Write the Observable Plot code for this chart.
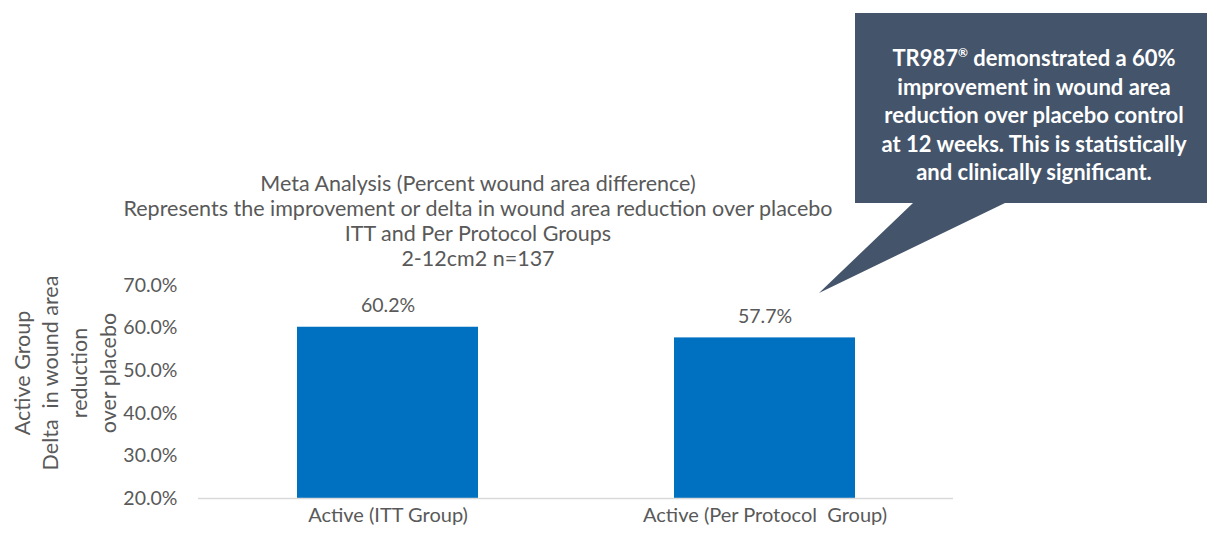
<!DOCTYPE html>
<html>
<head>
<meta charset="utf-8">
<script src="https://cdn.jsdelivr.net/npm/d3@7"></script>
<script src="https://cdn.jsdelivr.net/npm/@observablehq/plot@0.6"></script>
<style>
  html, body { margin: 0; padding: 0; background: #fff; }
  #chart { width: 1207px; height: 534px; }
  svg { font-family: Lato, "Open Sans", sans-serif; }
</style>
</head>
<body>
<div id="chart"></div>
<script>
// ---- data ----
const categories = ["Active (ITT Group)", "Active (Per Protocol  Group)"];
const values = [60.2, 57.7];
const yTicks = [20, 30, 40, 50, 60, 70];
const titleLines = [
  "Meta Analysis (Percent wound area difference)",
  "Represents the improvement or delta in wound area reduction over placebo",
  "ITT and Per Protocol Groups",
  "2-12cm2 n=137"
];
const yTitleLines = ["Active Group", "Delta  in wound area", "reduction", "over placebo"];
const calloutLines = [
  "TR987\u00AE demonstrated a 60%",
  "improvement in wound area",
  "reduction over placebo control",
  "at 12 weeks. This is statistically",
  "and clinically significant."
];

const data = categories.map((c, i) => ({category: c, value: values[i]}));
const pct = d => d.toFixed(1) + "%";
const grey = "#595959";

function annotations(index, scales, values, dims) {
  const g = d3.create("svg:g");
  // Title block
  const t = g.append("text")
    .attr("text-anchor", "middle")
    .attr("fill", grey)
    .attr("font-size", 21.5);
  titleLines.forEach((line, i) => {
    t.append("tspan").attr("x", 478).attr("y", 190.5 + i * 25.2).text(line);
  });
  // Y axis title (rotated)
  const yt = g.append("text")
    .attr("text-anchor", "middle")
    .attr("fill", grey)
    .attr("font-size", 21.5)
    .attr("transform", "translate(0,373) rotate(-90)");
  yTitleLines.forEach((line, i) => {
    yt.append("tspan").attr("x", 0).attr("y", 29.5 + i * 28.7).text(line);
  });
  // Callout
  g.append("path")
    .attr("d", "M855,13 L1207,13 L1207,203 L1005,203 L819,293 L913,203 L855,203 Z")
    .attr("fill", "#44546A");
  calloutLines.forEach((line, i) => {
    const ct = g.append("text")
      .attr("text-anchor", "middle")
      .attr("fill", "#fff")
      .attr("font-weight", "bold")
      .attr("font-size", 22)
      .attr("x", 1034)
      .attr("y", 66 + i * 28.6);
    const parts = line.split("\u00AE");
    if (parts.length > 1) {
      ct.append("tspan").text(parts[0]);
      ct.append("tspan").attr("font-size", 12).attr("dy", -9).text("\u00AE");
      ct.append("tspan").attr("dy", 9).text(parts[1]);
    } else {
      ct.text(line);
    }
  });
  return g.node();
}

const chart = Plot.plot({
  width: 1207,
  height: 534,
  marginLeft: 198,
  marginRight: 254,
  marginTop: 285,
  marginBottom: 36,
  style: {fontFamily: "Lato, 'Open Sans', sans-serif", color: grey, background: "#fff"},
  x: {domain: categories, paddingInner: 0.52, paddingOuter: 0.26, axis: null},
  y: {domain: [20, 70], axis: null},
  marks: [
    Plot.axisY({ticks: yTicks, tickSize: 0, tickPadding: 21, tickFormat: pct, fontSize: 19.5, fill: grey, label: null}),
    Plot.axisX({tickSize: 0, tickPadding: 9, fontSize: 20, fill: grey, label: null}),
    Plot.barY(data, {x: "category", y: "value", fill: "#0070C0", clip: true}),
    Plot.ruleY([20], {stroke: "#D9D9D9", strokeWidth: 1.5}),
    Plot.text(data, {x: "category", y: "value", text: d => pct(d.value), dy: -21, fontSize: 19.5, fill: grey}),
    annotations
  ]
});
document.getElementById("chart").append(chart);
</script>
</body>
</html>
